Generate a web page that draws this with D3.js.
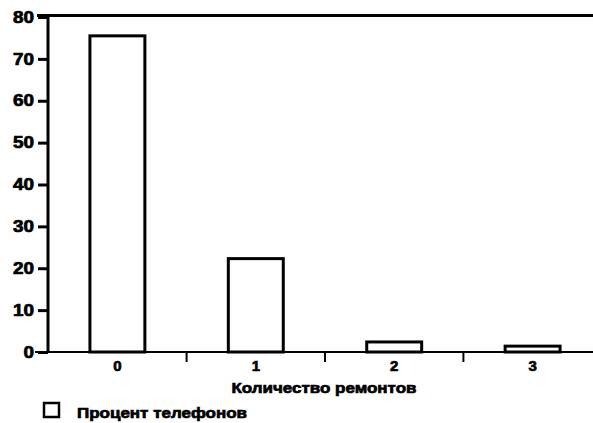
<!DOCTYPE html>
<html><head><meta charset="utf-8">
<script src="https://cdn.jsdelivr.net/npm/d3@7"></script>
<style>body{margin:0;background:#fff}svg{display:block}text{font-family:"Liberation Sans",Arial,sans-serif;font-weight:bold;fill:#000;stroke:#000;stroke-width:0.7px}</style>
</head><body>
<svg id="c" width="593" height="423"></svg>
<script>
const categories = ["0","1","2","3"];
const percentPhones = [75.5, 22.3, 2.4, 1.4];
const yTicks = [0,10,20,30,40,50,60,70,80];
const xTitle = "Количество ремонтов";
const legendLabel = "Процент телефонов";

const svg = d3.select("#c");
const x = d3.scaleBand().domain(categories).range([48, 602]).paddingInner(0.603).paddingOuter(0.303);
const y = d3.scaleLinear().domain([0, 80]).range([352, 17]);
const step = x.step(), bw = x.bandwidth();

// bars
svg.selectAll("rect.bar").data(categories).enter().append("rect")
  .attr("class","bar")
  .attr("x", d => x(d))
  .attr("y", (d,i) => y(percentPhones[i]))
  .attr("width", bw)
  .attr("height", (d,i) => y(0) - y(percentPhones[i]))
  .attr("fill","#fff").attr("stroke","#000").attr("stroke-width",3);

// y axis
const ya = svg.append("g").attr("transform","translate(48,0)")
  .call(d3.axisLeft(y).tickValues(yTicks).tickSize(10).tickPadding(4));
ya.select(".domain").remove();
ya.selectAll(".tick line").attr("stroke","#000").attr("stroke-width",3);
ya.selectAll(".tick text").attr("font-size",16)
  .attr("textLength", d => String(d).length * 10.5).attr("lengthAdjust","spacingAndGlyphs");
svg.append("line").attr("x1",48).attr("x2",48).attr("y1",y(80)-3).attr("y2",y(0)+1)
  .attr("stroke","#000").attr("stroke-width",3);
// top frame line
svg.append("line").attr("x1",37).attr("x2",593).attr("y1",y(80)-1.5).attr("y2",y(80)-1.5)
  .attr("stroke","#000").attr("stroke-width",3);

// x axis
const xa = svg.append("g").attr("transform",`translate(0,${y(0)})`)
  .call(d3.axisBottom(x).tickSize(0).tickPadding(8));
xa.select(".domain").remove();
xa.selectAll(".tick text").attr("font-size",15).attr("dy","0.71em");
svg.append("line").attr("x1",35).attr("x2",593).attr("y1",y(0)).attr("y2",y(0))
  .attr("stroke","#000").attr("stroke-width",2);
// boundary tick marks between categories
svg.selectAll("line.sep").data(categories.slice(1)).enter().append("line")
  .attr("class","sep")
  .attr("x1", d => x(d) - (step - bw)/2).attr("x2", d => x(d) - (step - bw)/2)
  .attr("y1", y(0)).attr("y2", y(0)+10)
  .attr("stroke","#000").attr("stroke-width",2);

// x title
svg.append("text").attr("x",324).attr("y",393).attr("text-anchor","middle")
  .attr("font-size",15).attr("textLength",185).attr("lengthAdjust","spacingAndGlyphs").text(xTitle);

// legend
svg.append("rect").attr("x",44).attr("y",403).attr("width",15).attr("height",14)
  .attr("fill","#fff").attr("stroke","#000").attr("stroke-width",2.5);
svg.append("text").attr("x",77).attr("y",418).attr("font-size",15)
  .attr("textLength",170).attr("lengthAdjust","spacingAndGlyphs").text(legendLabel);
</script>
</body></html>
